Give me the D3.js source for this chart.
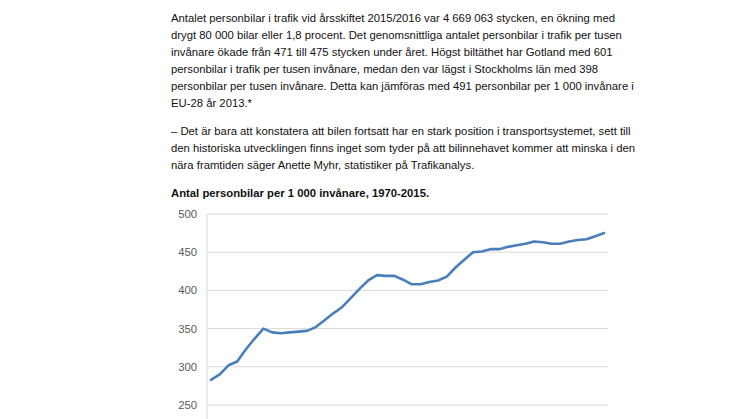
<!DOCTYPE html>
<html><head><meta charset="utf-8">
<script src="https://cdn.jsdelivr.net/npm/d3@7"></script>
<style>body{margin:0;background:#fff;font-family:"Liberation Sans",Arial,sans-serif;}</style>
</head><body>
<svg id="c" width="746" height="419"></svg>
<script>
var paragraph1 = [
	"Antalet personbilar i trafik vid årsskiftet 2015/2016 var 4 669 063 stycken, en ökning med",
	"drygt 80 000 bilar eller 1,8 procent. Det genomsnittliga antalet personbilar i trafik per tusen",
	"invånare ökade från 471 till 475 stycken under året. Högst biltäthet har Gotland med 601",
	"personbilar i trafik per tusen invånare, medan den var lägst i Stockholms län med 398",
	"personbilar per tusen invånare. Detta kan jämföras med 491 personbilar per 1 000 invånare i",
	"EU-28 år 2013.*"
];
var paragraph2 = [
	"– Det är bara att konstatera att bilen fortsatt har en stark position i transportsystemet, sett till",
	"den historiska utvecklingen finns inget som tyder på att bilinnehavet kommer att minska i den",
	"nära framtiden säger Anette Myhr, statistiker på Trafikanalys."
];
var chartTitle = "Antal personbilar per 1 000 invånare, 1970-2015.";
var years = d3.range(1970, 2016);
var cars = [283, 290, 302, 307, 323, 337, 350, 345, 344, 345, 346, 347, 352, 361, 370, 378,
	390, 402, 413, 420, 419, 419, 414, 408, 408, 411, 413, 418, 430, 440, 450, 451,
	454, 454, 457, 459, 461, 464, 463, 461, 461, 464, 466, 467, 471, 475];
var yTicks = [250, 300, 350, 400, 450, 500];

var svg = d3.select("#c");

// text block
var t1 = svg.append("text").attr("font-size", 11.3).attr("fill", "#111");
paragraph1.forEach(function (l, i) {
	t1.append("tspan").attr("x", 171).attr("y", 22 + i * 17).text(l);
});
var t2 = svg.append("text").attr("font-size", 11.3).attr("fill", "#111");
paragraph2.forEach(function (l, i) {
	t2.append("tspan").attr("x", 171).attr("y", 135 + i * 17).text(l);
});
svg.append("text").attr("x", 171).attr("y", 197).attr("font-size", 11.3)
	.attr("font-weight", "bold").attr("fill", "#111").text(chartTitle);

// chart
var x = d3.scaleLinear().domain([1970, 2015]).range([211, 604]);
var y = d3.scaleLinear().domain([250, 500]).range([405, 214]);

svg.append("g").selectAll("line").data(yTicks).join("line")
	.attr("x1", 207).attr("x2", 608)
	.attr("y1", function (d) { return y(d); }).attr("y2", function (d) { return y(d); })
	.attr("stroke", "#d9d9d9").attr("stroke-width", 1);

svg.append("line").attr("x1", 207).attr("x2", 207).attr("y1", 214).attr("y2", 419)
	.attr("stroke", "#d9d9d9");

svg.append("g").selectAll("text").data(yTicks).join("text")
	.attr("x", 197).attr("y", function (d) { return y(d) + 4; })
	.attr("text-anchor", "end").attr("font-size", 11.3).attr("fill", "#595959")
	.text(function (d) { return d; });

var line = d3.line()
	.x(function (d, i) { return x(years[i]); })
	.y(function (d) { return y(d); });

svg.append("path").datum(cars)
	.attr("fill", "none").attr("stroke", "#4a7ebb").attr("stroke-width", 2.6)
	.attr("stroke-linejoin", "round").attr("stroke-linecap", "round")
	.attr("d", line);
</script>
</body></html>
